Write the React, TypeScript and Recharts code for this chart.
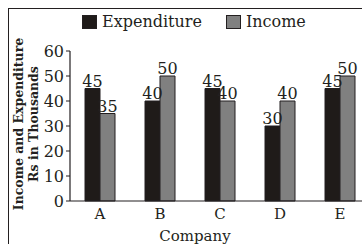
import { BarChart, Bar, XAxis, YAxis, LabelList } from "recharts";

const companies = ["A", "B", "C", "D", "E"];
const expenditure = [45, 40, 45, 30, 45];
const income = [35, 50, 40, 40, 50];
const yTicks = [0, 10, 20, 30, 40, 50, 60];
const seriesNames = ["Expenditure", "Income"];

const data = companies.map((company, i) => ({
  company,
  expenditure: expenditure[i],
  income: income[i],
}));

const INK = "#231f20";
const EXP_FILL = "#1f1b19";
const INC_FILL = "#808080";
const FONT = "'DejaVu Serif', serif";

const YAxisTitle = () => (
  <g fontFamily={FONT} fontWeight="bold" fontSize={12.5} fill={INK}>
    <text x={9} y={115} textAnchor="middle" dominantBaseline="central" transform="rotate(-90, 9, 115)">
      Income and Expenditure
    </text>
    <text x={24} y={115} textAnchor="middle" dominantBaseline="central" transform="rotate(-90, 24, 115)">
      Rs in Thousands
    </text>
  </g>
);

const LegendBox = ({ color, label, gap }: { color: string; label: string; gap: number }) => (
  <div style={{ display: "flex", alignItems: "center", marginRight: gap }}>
    <div style={{ width: 13, height: 12, background: color, border: `1px solid ${INK}`, marginRight: 5 }} />
    <span>{label}</span>
  </div>
);

export default function App() {
  return (
    <div
      style={{
        position: "fixed",
        left: 8,
        top: 8,
        width: 354,
        height: 236,
        overflow: "hidden",
        borderTop: `1px solid ${INK}`,
        borderLeft: `1px solid ${INK}`,
        background: "#fff",
      }}
    >
      <div
        style={{
          position: "absolute",
          left: 73,
          top: 3,
          display: "flex",
          fontFamily: FONT,
          fontSize: 16,
          color: INK,
          lineHeight: "19px",
        }}
      >
        <LegendBox color={EXP_FILL} label={seriesNames[0]} gap={24} />
        <LegendBox color={INC_FILL} label={seriesNames[1]} gap={0} />
      </div>
      <BarChart
        width={380}
        height={236}
        data={data}
        margin={{ top: 42, right: 19, left: 0, bottom: 0 }}
        barGap={0}
        barSize={15}
      >
        <XAxis
          dataKey="company"
          height={44}
          tickLine={false}
          tickMargin={1}
          axisLine={{ stroke: INK, strokeWidth: 1.2 }}
          tick={{ fill: INK, fontSize: 15, fontFamily: FONT }}
          label={{ value: "Company", position: "insideBottom", offset: 4, dx: -25, fill: INK, fontSize: 15, fontFamily: FONT }}
        />
        <YAxis
          width={61}
          domain={[0, 60]}
          ticks={yTicks}
          interval={0}
          tickSize={4}
          tickMargin={2}
          axisLine={{ stroke: INK, strokeWidth: 1.2 }}
          tickLine={{ stroke: INK }}
          tick={{ fill: INK, fontSize: 16, fontFamily: FONT }}
          label={<YAxisTitle />}
        />
        <Bar dataKey="expenditure" name={seriesNames[0]} fill={EXP_FILL} stroke={INK} strokeWidth={1} isAnimationActive={false}>
          <LabelList dataKey="expenditure" position="top" offset={2} fill={INK} fontSize={16} fontFamily={FONT} />
        </Bar>
        <Bar dataKey="income" name={seriesNames[1]} fill={INC_FILL} stroke={INK} strokeWidth={1} isAnimationActive={false}>
          <LabelList dataKey="income" position="top" offset={2} fill={INK} fontSize={16} fontFamily={FONT} />
        </Bar>
      </BarChart>
    </div>
  );
}
